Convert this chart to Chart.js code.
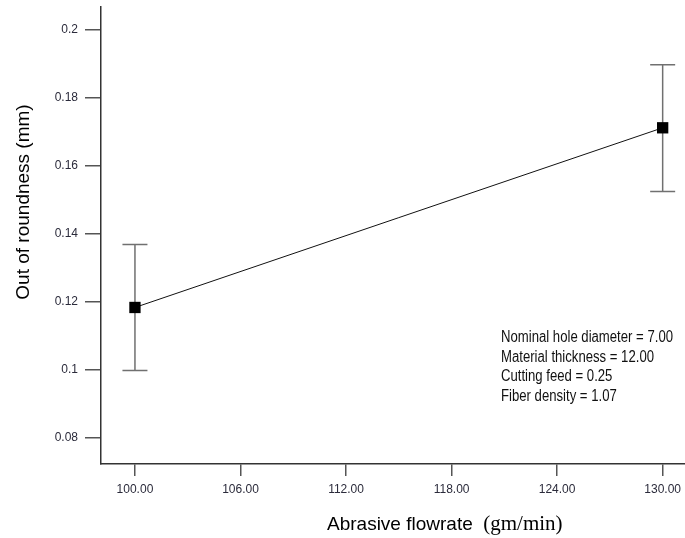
<!DOCTYPE html>
<html>
<head>
<meta charset="utf-8">
<script src="https://cdn.jsdelivr.net/npm/chart.js@4"></script>
<style>
  html, body { margin: 0; padding: 0; background: #fff; }
  #wrap { width: 685px; height: 538px; }
</style>
</head>
<body>
<div id="wrap"><canvas id="chart" width="685" height="538"></canvas></div>
<script>
// Out of roundness vs abrasive flowrate, with error bars
const flowrate = [100, 130];
const roundness = [0.1183, 0.1711];
const errLow = [0.0998, 0.1524];
const errHigh = [0.1368, 0.1896];

const xTicks = [100, 106, 112, 118, 124, 130];
const yTicks = [0.08, 0.1, 0.12, 0.14, 0.16, 0.18, 0.2];

const factorNotes = [
  'Nominal hole diameter = 7.00',
  'Material thickness = 12.00',
  'Cutting feed = 0.25',
  'Fiber density = 1.07',
];

const SANS = "'Liberation Sans', Arial, sans-serif";
Chart.defaults.font.family = SANS;

// vertical error bars with caps, drawn under the markers
const errorBars = {
  id: 'errorBars',
  beforeDatasetsDraw(chart) {
    const { ctx, scales } = chart;
    ctx.save();
    ctx.strokeStyle = '#707070';
    ctx.lineWidth = 1.5;
    for (let i = 0; i < flowrate.length; i++) {
      const x = scales.x.getPixelForValue(flowrate[i]);
      const yLo = scales.y.getPixelForValue(errLow[i]);
      const yHi = scales.y.getPixelForValue(errHigh[i]);
      ctx.beginPath();
      ctx.moveTo(x, yLo);
      ctx.lineTo(x, yHi);
      ctx.moveTo(x - 12.5, yLo);
      ctx.lineTo(x + 12.5, yLo);
      ctx.moveTo(x - 12.5, yHi);
      ctx.lineTo(x + 12.5, yHi);
      ctx.stroke();
    }
    ctx.restore();
  },
};

// axis titles (mixed fonts) and the factor notes
const labels = {
  id: 'labels',
  afterDraw(chart) {
    const ctx = chart.ctx;
    ctx.save();
    ctx.fillStyle = '#000';

    // y title
    ctx.save();
    ctx.translate(29, 202);
    ctx.rotate(-Math.PI / 2);
    ctx.font = '19px ' + SANS;
    ctx.textAlign = 'center';
    ctx.textBaseline = 'alphabetic';
    ctx.fillText('Out of roundness (mm)', 0, 0);
    ctx.restore();

    // x title
    ctx.textAlign = 'left';
    ctx.textBaseline = 'alphabetic';
    ctx.font = '19px ' + SANS;
    const part1 = 'Abrasive flowrate  ';
    ctx.fillText(part1, 327, 530);
    const w1 = ctx.measureText(part1).width;
    ctx.font = "21px 'Liberation Serif', 'Times New Roman', serif";
    ctx.fillText('(gm/min)', 327 + w1, 530);

    // notes
    ctx.font = "16px 'Liberation Sans Narrow', 'Arial Narrow', " + SANS;
    let widest = 0;
    factorNotes.forEach(t => { widest = Math.max(widest, ctx.measureText(t).width); });
    const sx = 172 / widest;
    ctx.fillStyle = '#111';
    factorNotes.forEach((t, i) => {
      ctx.save();
      ctx.translate(501, 342 + i * 19.6);
      ctx.scale(sx, 1);
      ctx.fillText(t, 0, 0);
      ctx.restore();
    });
    ctx.restore();
  },
};

const config = {
  type: 'line',
  data: {
    datasets: [
      {
        label: 'Out of roundness',
        data: flowrate.map((x, i) => ({ x: x, y: roundness[i] })),
        borderColor: '#111',
        borderWidth: 1,
        pointStyle: 'rect',
        pointRadius: 8,
        pointBackgroundColor: '#000',
        pointBorderWidth: 0,
        tension: 0,
      },
    ],
  },
  options: {
    responsive: false,
    animation: false,
    layout: { autoPadding: false, padding: { top: 7, right: 0, bottom: 0, left: 0 } },
    plugins: {
      legend: { display: false },
      tooltip: { enabled: false },
    },
    scales: {
      x: {
        type: 'linear',
        min: 98.07,
        max: 131.27,
        afterBuildTicks: (scale) => { scale.ticks = xTicks.map(v => ({ value: v })); },
        afterFit: (scale) => {
          scale.height = 74;
          scale.paddingLeft = 0;
          scale.paddingRight = 0;
        },
        grid: { drawOnChartArea: false, drawTicks: true, tickLength: 12, color: '#555', lineWidth: 1.5 },
        border: { display: true, color: '#333', width: 1.5 },
        ticks: {
          padding: 6,
          color: '#2b2b3b',
          font: { size: 12 },
          maxRotation: 0,
          callback: (v) => Number(v).toFixed(2),
        },
      },
      y: {
        type: 'linear',
        min: 0.0723,
        max: 0.2066,
        afterBuildTicks: (scale) => { scale.ticks = yTicks.map(v => ({ value: v })); },
        afterFit: (scale) => {
          scale.width = 101;
          scale.paddingTop = 0;
          scale.paddingBottom = 0;
        },
        grid: { drawOnChartArea: false, drawTicks: true, tickLength: 16, color: '#555', lineWidth: 1.5 },
        border: { display: true, color: '#333', width: 1.5 },
        ticks: {
          padding: 7,
          color: '#2b2b3b',
          font: { size: 12 },
          callback: (v) => String(Math.round(v * 100) / 100),
        },
      },
    },
  },
  plugins: [errorBars, labels],
};

new Chart(document.getElementById('chart').getContext('2d'), config);
</script>
</body>
</html>
